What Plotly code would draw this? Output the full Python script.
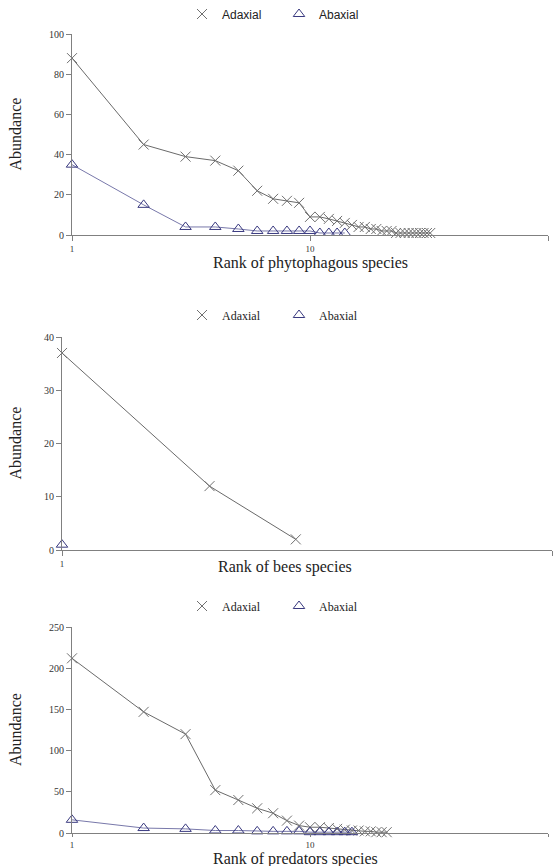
import plotly.graph_objects as go

# ---------------- data ----------------
phyto_adaxial = [88, 45, 39, 37, 32, 22, 18, 17, 16, 9, 9, 8, 7, 6, 5, 4, 4, 3, 3, 2, 2, 2,
                 1, 1, 1, 1, 1, 1, 1, 1, 1, 1]
phyto_abaxial = [35, 15, 4, 4, 3, 2, 2, 2, 2, 2, 1, 1, 1, 1]
bees_adaxial = [37, 12, 2]
bees_abaxial = [1]
pred_adaxial = [212, 147, 120, 52, 40, 30, 24, 15, 9, 7, 7, 6, 5, 4, 3, 3, 2, 2, 1, 1, 1]
pred_abaxial = [16, 6, 5, 3, 3, 2, 2, 2, 2, 1, 1, 1, 1, 1, 1]
series_names = ["Adaxial", "Abaxial"]
x_titles = ["Rank of phytophagous species", "Rank of bees species", "Rank of predators species"]
y_title = "Abundance"
x_ticks_12 = [1, 10, 100]
x_ticks_2 = [1, 10]
y_ticks_1 = [0, 20, 40, 60, 80, 100]
y_ticks_2 = [0, 10, 20, 30, 40]
y_ticks_3 = [0, 50, 100, 150, 200, 250]

W, H = 553, 866
SERIF = "Liberation Serif, Times New Roman, serif"
SANS = "Liberation Sans, Arial, sans-serif"

AD_LINE = "#6a6a6a"
AD_MARK = "#707070"
AB_LINE = "#7878aa"
AB_MARK = "#3a3a80"
AXIS = "#808080"

fig = go.Figure()

panels = [
    dict(ad=phyto_adaxial, ab=phyto_abaxial, xr=[0, 2], yr=[0, 100], xt=x_ticks_12, yt=y_ticks_1,
         x0=72, x1=548, top=34, bot=235, leg_y=14, leg_font=SANS, title=x_titles[0], title_y=263,
         title_x=310, xtl=5),
    dict(ad=bees_adaxial, ab=bees_abaxial, xr=[0, 1], yr=[0, 40], xt=x_ticks_2, yt=y_ticks_2,
         x0=62, x1=552, top=337, bot=550, leg_y=315, leg_font=SERIF, title=x_titles[1], title_y=567,
         title_x=285, xtl=5),
    dict(ad=pred_adaxial, ab=pred_abaxial, xr=[0, 2], yr=[0, 250], xt=x_ticks_12, yt=y_ticks_3,
         x0=72, x1=548, top=627, bot=833, leg_y=606, leg_font=SERIF, title=x_titles[2], title_y=859,
         title_x=295, xtl=3),
]

layout = dict(
    width=W, height=H, margin=dict(l=0, r=0, t=0, b=0, autoexpand=False),
    paper_bgcolor="white", plot_bgcolor="white",
    showlegend=True, annotations=[],
)

AD_MARKER = dict(symbol="x-thin", size=10, color=AD_MARK, line=dict(color=AD_MARK, width=1))
AB_MARKER = dict(symbol="triangle-up-open", size=10, color=AB_MARK, line=dict(color=AB_MARK, width=1))

for i, p in enumerate(panels, start=1):
    xa = "x" if i == 1 else f"x{i}"
    ya = "y" if i == 1 else f"y{i}"
    lg = "legend" if i == 1 else f"legend{i}"
    fig.add_trace(go.Scatter(
        x=list(range(1, len(p["ad"]) + 1)), y=p["ad"], name=series_names[0],
        mode="lines+markers", xaxis=xa, yaxis=ya, showlegend=False, cliponaxis=False,
        line=dict(color=AD_LINE, width=1), marker=AD_MARKER,
    ))
    fig.add_trace(go.Scatter(
        x=list(range(1, len(p["ab"]) + 1)), y=p["ab"], name=series_names[1],
        mode="lines+markers", xaxis=xa, yaxis=ya, showlegend=False, cliponaxis=False,
        line=dict(color=AB_LINE, width=1), marker=AB_MARKER,
    ))
    # legend-only entries (marker symbol only, as in the reference)
    for nm, mk in zip(series_names, [AD_MARKER, AB_MARKER]):
        fig.add_trace(go.Scatter(
            x=[None], y=[None], name=nm, mode="markers", xaxis=xa, yaxis=ya,
            legend=lg, marker=mk,
        ))
    xkey = "xaxis" if i == 1 else f"xaxis{i}"
    ykey = "yaxis" if i == 1 else f"yaxis{i}"
    xdom = [p["x0"] / W, p["x1"] / W]
    ydom = [1 - p["bot"] / H, 1 - p["top"] / H]
    layout[xkey] = dict(
        type="log", range=p["xr"], domain=xdom, anchor=ya, automargin=False,
        tickvals=p["xt"], ticktext=[str(v) for v in p["xt"]],
        showgrid=False, zeroline=False, showline=True, linecolor=AXIS, linewidth=1,
        ticks="outside", ticklen=p["xtl"], tickcolor=AXIS,
        tickfont=dict(family=SERIF, size=9, color="#333333"),
    )
    layout[ykey] = dict(
        range=p["yr"], domain=ydom, anchor=xa, automargin=False,
        tickvals=p["yt"], showgrid=False, zeroline=False, showline=True,
        linecolor=AXIS, linewidth=1, ticks="outside", ticklen=5, tickcolor=AXIS,
        tickfont=dict(family=SERIF, size=10, color="#333333"),
    )
    # overlay axes giving the inner half of the crossing tick marks
    ox, oy = f"xaxis{i + 3}", f"yaxis{i + 3}"
    layout[ox] = dict(
        type="log", range=p["xr"], domain=xdom, overlaying=xa, anchor=ya, side="bottom",
        automargin=False, tickvals=p["xt"], showticklabels=False, showgrid=False,
        zeroline=False, showline=False, ticks="inside", ticklen=5, tickcolor=AXIS,
    )
    layout[oy] = dict(
        range=p["yr"], domain=ydom, overlaying=ya, anchor=xa, side="left",
        automargin=False, tickvals=p["yt"], showticklabels=False, showgrid=False,
        zeroline=False, showline=False, ticks="inside", ticklen=5, tickcolor=AXIS,
    )
    layout[lg] = dict(
        orientation="h", x=182 / W, xanchor="left", y=1 - p["leg_y"] / H, yanchor="middle",
        font=dict(family=p["leg_font"], size=12, color="#222222"), bgcolor="rgba(0,0,0,0)",
        itemwidth=30, entrywidth=52, entrywidthmode="pixels",
    )
    layout["annotations"].append(dict(
        text=p["title"], x=p["title_x"] / W, y=1 - p["title_y"] / H, xref="paper", yref="paper",
        xanchor="center", yanchor="middle", showarrow=False,
        font=dict(family=SERIF, size=16, color="#222222"),
    ))
    layout["annotations"].append(dict(
        text=y_title, x=15 / W, y=1 - ((p["top"] + p["bot"]) / 2) / H, xref="paper", yref="paper",
        xanchor="center", yanchor="middle", showarrow=False, textangle=-90,
        font=dict(family=SERIF, size=16, color="#222222"),
    ))

fig.update_layout(**layout)
fig.write_html(
    "out.html",
    config={"displayModeBar": False},
    post_script="document.body.style.margin='0';document.body.style.overflow='hidden';",
)
